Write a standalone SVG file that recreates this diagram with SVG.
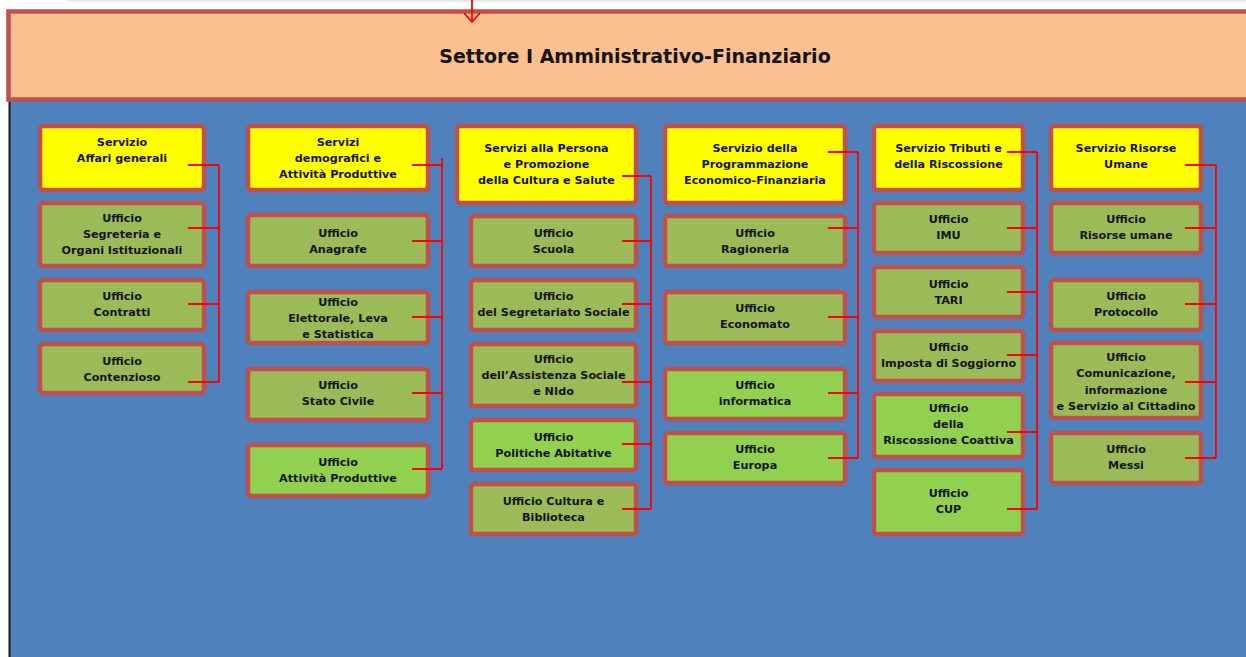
<svg xmlns="http://www.w3.org/2000/svg" width="1246" height="657" viewBox="0 0 1246 657">
<style>
.bx{stroke:#c0504d;stroke-width:4.5}
.y{fill:#ffff00}
.o{fill:#9bbb59}
.g{fill:#92d050}
.t{font-family:"DejaVu Sans",sans-serif;font-weight:bold;font-size:11.2px;fill:#141414;text-anchor:middle}
.c{fill:none;stroke:#ff0000;stroke-width:1.8}
</style>
<rect x="0" y="0" width="1246" height="657" fill="#ffffff"/>
<rect x="67" y="0" width="1179" height="2" fill="#e8e8e8"/>
<rect x="10" y="101" width="1240" height="560" fill="#4f81bd"/>
<rect x="8.5" y="101" width="2" height="560" fill="#1a1a1a"/>
<g id="settore">
<rect x="8.5" y="11.5" width="1260" height="88" fill="#fac090" stroke="#c0504d" stroke-width="4.5"/>
<text x="635" y="63" font-family="DejaVu Sans,sans-serif" font-weight="bold" font-size="19" fill="#141414" text-anchor="middle">Settore I Amministrativo-Finanziario</text>
</g>
<g id="arrow-in">
<path d="M472 0V22M464 13L472 22L480 13" fill="none" stroke="#ff0000" stroke-width="1.8"/>
</g>
<!-- Column 1 -->
<g id="affari-generali"><rect class="bx y" x="40" y="126" width="164" height="64" rx="3"/><text class="t"><tspan x="122" y="146">Servizio</tspan><tspan x="122" y="162">Affari generali</tspan></text></g>
<g id="segreteria"><rect class="bx o" x="40" y="203" width="164" height="63" rx="3"/><text class="t"><tspan x="122" y="222">Ufficio</tspan><tspan x="122" y="238">Segreteria e</tspan><tspan x="122" y="254">Organi Istituzionali</tspan></text></g>
<g id="contratti"><rect class="bx o" x="40" y="280" width="164" height="50" rx="3"/><text class="t"><tspan x="122" y="300">Ufficio</tspan><tspan x="122" y="316">Contratti</tspan></text></g>
<g id="contenzioso"><rect class="bx o" x="40" y="344" width="164" height="49" rx="3"/><text class="t"><tspan x="122" y="365">Ufficio</tspan><tspan x="122" y="381">Contenzioso</tspan></text></g>
<!-- Column 2 -->
<g id="demografici"><rect class="bx y" x="248" y="126" width="180" height="64" rx="3"/><text class="t"><tspan x="338" y="146">Servizi</tspan><tspan x="338" y="162">demografici e</tspan><tspan x="338" y="178">Attività Produttive</tspan></text></g>
<g id="anagrafe"><rect class="bx o" x="248" y="215" width="180" height="51" rx="3"/><text class="t"><tspan x="338" y="237">Ufficio</tspan><tspan x="338" y="253">Anagrafe</tspan></text></g>
<g id="elettorale"><rect class="bx o" x="248" y="292" width="180" height="51" rx="3"/><text class="t"><tspan x="338" y="306">Ufficio</tspan><tspan x="338" y="322">Elettorale, Leva</tspan><tspan x="338" y="338">e Statistica</tspan></text></g>
<g id="stato-civile"><rect class="bx o" x="248" y="369" width="180" height="51" rx="3"/><text class="t"><tspan x="338" y="389">Ufficio</tspan><tspan x="338" y="405">Stato Civile</tspan></text></g>
<g id="attivita-produttive"><rect class="bx g" x="248" y="445" width="180" height="51" rx="3"/><text class="t"><tspan x="338" y="466">Ufficio</tspan><tspan x="338" y="482">Attività Produttive</tspan></text></g>
<!-- Column 3 -->
<g id="persona"><rect class="bx y" x="457" y="126" width="179" height="77" rx="3"/><text class="t"><tspan x="546.5" y="152">Servizi alla Persona</tspan><tspan x="546.5" y="168">e Promozione</tspan><tspan x="546.5" y="184">della Cultura e Salute</tspan></text></g>
<g id="scuola"><rect class="bx o" x="471" y="216" width="165" height="50" rx="3"/><text class="t"><tspan x="553.5" y="237">Ufficio</tspan><tspan x="553.5" y="253">Scuola</tspan></text></g>
<g id="segretariato"><rect class="bx o" x="471" y="280" width="165" height="50" rx="3"/><text class="t"><tspan x="553.5" y="300">Ufficio</tspan><tspan x="553.5" y="316">del Segretariato Sociale</tspan></text></g>
<g id="assistenza"><rect class="bx o" x="471" y="344" width="165" height="62" rx="3"/><text class="t"><tspan x="553.5" y="363">Ufficio</tspan><tspan x="553.5" y="379">dell’Assistenza Sociale</tspan><tspan x="553.5" y="395">e NIdo</tspan></text></g>
<g id="politiche-abitative"><rect class="bx g" x="471" y="420" width="165" height="50" rx="3"/><text class="t"><tspan x="553.5" y="441">Ufficio</tspan><tspan x="553.5" y="457">Politiche Abitative</tspan></text></g>
<g id="cultura-biblioteca"><rect class="bx o" x="471" y="484" width="165" height="50" rx="3"/><text class="t"><tspan x="553.5" y="505">Ufficio Cultura e</tspan><tspan x="553.5" y="521">Biblioteca</tspan></text></g>
<!-- Column 4 -->
<g id="programmazione"><rect class="bx y" x="665" y="126" width="180" height="77" rx="3"/><text class="t"><tspan x="755" y="152">Servizio della</tspan><tspan x="755" y="168">Programmazione</tspan><tspan x="755" y="184">Economico-Finanziaria</tspan></text></g>
<g id="ragioneria"><rect class="bx o" x="665" y="216" width="180" height="50" rx="3"/><text class="t"><tspan x="755" y="237">Ufficio</tspan><tspan x="755" y="253">Ragioneria</tspan></text></g>
<g id="economato"><rect class="bx o" x="665" y="292" width="180" height="51" rx="3"/><text class="t"><tspan x="755" y="312">Ufficio</tspan><tspan x="755" y="328">Economato</tspan></text></g>
<g id="informatica"><rect class="bx g" x="665" y="369" width="180" height="50" rx="3"/><text class="t"><tspan x="755" y="389">Ufficio</tspan><tspan x="755" y="405">informatica</tspan></text></g>
<g id="europa"><rect class="bx g" x="665" y="433" width="180" height="50" rx="3"/><text class="t"><tspan x="755" y="453">Ufficio</tspan><tspan x="755" y="469">Europa</tspan></text></g>
<!-- Column 5 -->
<g id="tributi"><rect class="bx y" x="874" y="126" width="149" height="64" rx="3"/><text class="t"><tspan x="948.5" y="152">Servizio Tributi e</tspan><tspan x="948.5" y="168">della Riscossione</tspan></text></g>
<g id="imu"><rect class="bx o" x="874" y="203" width="149" height="50" rx="3"/><text class="t"><tspan x="948.5" y="223">Ufficio</tspan><tspan x="948.5" y="239">IMU</tspan></text></g>
<g id="tari"><rect class="bx o" x="874" y="267" width="149" height="50" rx="3"/><text class="t"><tspan x="948.5" y="288">Ufficio</tspan><tspan x="948.5" y="304">TARI</tspan></text></g>
<g id="soggiorno"><rect class="bx o" x="874" y="331" width="149" height="50" rx="3"/><text class="t"><tspan x="948.5" y="351">Ufficio</tspan><tspan x="948.5" y="367">Imposta di Soggiorno</tspan></text></g>
<g id="riscossione-coattiva"><rect class="bx g" x="874" y="394" width="149" height="63" rx="3"/><text class="t"><tspan x="948.5" y="412">Ufficio</tspan><tspan x="948.5" y="428">della</tspan><tspan x="948.5" y="444">Riscossione Coattiva</tspan></text></g>
<g id="cup"><rect class="bx g" x="874" y="470" width="149" height="64" rx="3"/><text class="t"><tspan x="948.5" y="497">Ufficio</tspan><tspan x="948.5" y="513">CUP</tspan></text></g>
<!-- Column 6 -->
<g id="risorse-umane-servizio"><rect class="bx y" x="1051" y="126" width="150" height="64" rx="3"/><text class="t"><tspan x="1126" y="152">Servizio Risorse</tspan><tspan x="1126" y="168">Umane</tspan></text></g>
<g id="risorse-umane"><rect class="bx o" x="1051" y="203" width="150" height="50" rx="3"/><text class="t"><tspan x="1126" y="223">Ufficio</tspan><tspan x="1126" y="239">Risorse umane</tspan></text></g>
<g id="protocollo"><rect class="bx o" x="1051" y="280" width="150" height="50" rx="3"/><text class="t"><tspan x="1126" y="300">Ufficio</tspan><tspan x="1126" y="316">Protocollo</tspan></text></g>
<g id="comunicazione"><rect class="bx o" x="1051" y="343" width="150" height="75" rx="3"/><text class="t"><tspan x="1126" y="361">Ufficio</tspan><tspan x="1126" y="377">Comunicazione,</tspan><tspan x="1126" y="394">informazione</tspan><tspan x="1126" y="410">e Servizio al Cittadino</tspan></text></g>
<g id="messi"><rect class="bx o" x="1051" y="433" width="150" height="50" rx="3"/><text class="t"><tspan x="1126" y="453">Ufficio</tspan><tspan x="1126" y="469">Messi</tspan></text></g>
<!-- Connectors -->
<g id="connectors" class="c">
<path d="M219 165V382M188 165H219M188 228H219M188 304H219M188 382H219"/>
<path d="M442 158V469M412 165H442M412 241H442M412 317H442M412 393H442M412 469H442"/>
<path d="M651 176V509M622 176H651M622 241H651M622 304H651M622 382H651M622 444H651M622 509H651"/>
<path d="M858 152V458M828 152H858M828 228H858M828 317H858M828 393H858M828 458H858"/>
<path d="M1037 152V509M1007 152H1037M1007 228H1037M1007 292H1037M1007 355H1037M1007 432H1037M1007 509H1037"/>
<path d="M1216 165V458M1185 165H1216M1185 228H1216M1185 304H1216M1185 382H1216M1185 458H1216"/>
</g>
</svg>
